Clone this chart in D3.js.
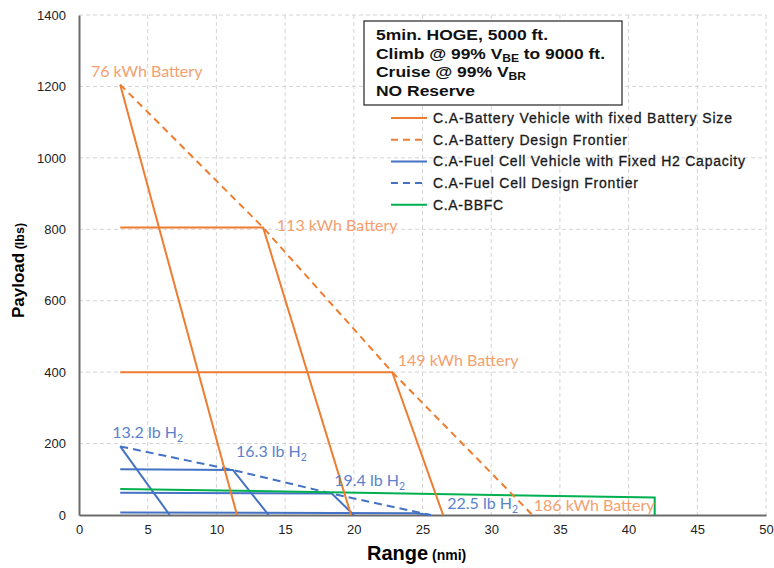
<!DOCTYPE html>
<html>
<head>
<meta charset="utf-8">
<script src="https://cdn.jsdelivr.net/npm/d3@7"></script>
<style>
  body { margin: 0; background: #fff; }
  text { font-family: "Liberation Sans", Arial, sans-serif; }
  .lbl { font-family: Lato, "Open Sans", sans-serif; font-size: 16px; }
</style>
</head>
<body>
<svg id="chart" width="774" height="568"></svg>
<script>
// battery vehicles, fixed battery size  [range nmi, payload lbs]
const bat76  = [[3, 1205], [11.5, 0]];
const bat113 = [[3, 805], [13.4, 805], [19.8, 0]];
const bat149 = [[3, 400], [22.8, 400], [26.5, 0]];
const batFrontier = [[3, 1205], [13.4, 805], [22.8, 400], [33, 0]];

// fuel cell vehicles, fixed H2 capacity
const fc132 = [[3, 192], [6.6, 0]];
const fc163 = [[3, 128], [11.2, 126], [13.8, 0]];
const fc194 = [[3, 62], [18.4, 60], [20, 0]];
const fc225 = [[3, 7], [24.5, 5], [25.6, 0]];
const fcFrontier = [[3, 192], [11.2, 126], [18.4, 60], [25.6, 0]];

const bbfc = [[3, 73], [41.9, 49], [41.9, 0]];

const xTicks = [0, 5, 10, 15, 20, 25, 30, 35, 40, 45, 50];
const yTicks = [0, 200, 400, 600, 800, 1000, 1200, 1400];

const batLabels = ["76 kWh Battery", "113 kWh Battery", "149 kWh Battery", "186 kWh Battery"];
const fcLabels = ["13.2 lb H", "16.3 lb H", "19.4 lb H", "22.5 lb H"];

const legendNames = [
  "C.A-Battery Vehicle with fixed Battery Size",
  "C.A-Battery Design Frontier",
  "C.A-Fuel Cell Vehicle with Fixed H2 Capacity",
  "C.A-Fuel Cell Design Frontier",
  "C.A-BBFC"
];

const orange = "#ED7D31", blue = "#4472C4", green = "#00B050";
const orangeTxt = "#F4A06E", blueTxt = "#5A82CC";

const svg = d3.select("#chart");
const margin = {top: 15, left: 79, right: 8, bottom: 53};
const W = 774 - margin.left - margin.right, H = 568 - margin.top - margin.bottom;

const x = d3.scaleLinear().domain([0, 50]).range([0, W]);
const y = d3.scaleLinear().domain([0, 1400]).range([H, 0]);

const g = svg.append("g").attr("transform", "translate(" + margin.left + "," + margin.top + ")");

// grid
g.selectAll(".vgrid").data(xTicks.slice(1)).enter().append("line")
  .attr("x1", d => x(d)).attr("x2", d => x(d)).attr("y1", 0).attr("y2", H)
  .attr("stroke", "#d4d4d4").attr("stroke-dasharray", "4,3");
g.selectAll(".hgrid").data(yTicks.slice(1)).enter().append("line")
  .attr("x1", 0).attr("x2", W).attr("y1", d => y(d)).attr("y2", d => y(d))
  .attr("stroke", "#d4d4d4").attr("stroke-dasharray", "4,3");

// axes
const xAxis = g.append("g").attr("transform", "translate(0," + H + ")")
  .call(d3.axisBottom(x).tickValues(xTicks).tickSize(0).tickPadding(10));
const yAxis = g.append("g")
  .call(d3.axisLeft(y).tickValues(yTicks).tickFormat(d3.format("d")).tickSize(0).tickPadding(13));
[xAxis, yAxis].forEach(a => {
  a.select(".domain").attr("stroke", "#6b6b6b").attr("stroke-width", 2);
  a.selectAll("text").attr("font-size", 13).attr("fill", "#222")
    .attr("font-family", "'Liberation Sans', Arial, sans-serif");
});

const line = d3.line().x(d => x(d[0])).y(d => y(d[1]));
function draw(pts, color, dash) {
  g.append("path").datum(pts).attr("d", line)
    .attr("fill", "none").attr("stroke", color).attr("stroke-width", 2)
    .attr("stroke-dasharray", dash || null);
}

draw(fc225, blue); draw(fc194, blue); draw(fc163, blue); draw(fc132, blue);
draw(fcFrontier, blue, "8,5");
draw(bbfc, green);
draw(bat76, orange); draw(bat113, orange); draw(bat149, orange);
draw(batFrontier, orange, "7,5");

// series labels
const batPos = [[0.87, 1226], [14.4, 795], [23.2, 417], [33.1, 11]];
batLabels.forEach((t, i) => {
  g.append("text").attr("class", "lbl").attr("fill", orangeTxt)
    .attr("x", x(batPos[i][0])).attr("y", y(batPos[i][1])).text(t);
});
const fcPos = [[2.42, 215], [11.43, 162], [18.58, 81], [26.8, 17]];
fcLabels.forEach((t, i) => {
  const tx = g.append("text").attr("class", "lbl").attr("fill", blueTxt)
    .attr("x", x(fcPos[i][0])).attr("y", y(fcPos[i][1])).text(t);
  tx.append("tspan").attr("font-size", 10.5).attr("dy", 4).text("2");
});

// condition box
const box = svg.append("g").attr("transform", "translate(364,21)");
box.append("rect").attr("width", 258).attr("height", 84)
  .attr("fill", "#fff").attr("stroke", "#222").attr("stroke-width", 1.2);
const bt = box.append("g").attr("font-weight", "bold").attr("font-size", 14.5).attr("fill", "#111");
bt.append("text").attr("x", 12).attr("y", 19).attr("textLength", 172)
  .attr("lengthAdjust", "spacingAndGlyphs").text("5min. HOGE, 5000 ft.");
const l2 = bt.append("text").attr("x", 12).attr("y", 37.5).attr("textLength", 229)
  .attr("lengthAdjust", "spacingAndGlyphs").text("Climb @ 99% V");
l2.append("tspan").attr("font-size", 10).attr("dy", 3).text("BE");
l2.append("tspan").attr("dy", -3).text(" to 9000 ft.");
const l3 = bt.append("text").attr("x", 12).attr("y", 56).attr("textLength", 150)
  .attr("lengthAdjust", "spacingAndGlyphs").text("Cruise @ 99% V");
l3.append("tspan").attr("font-size", 10).attr("dy", 3).text("BR");
bt.append("text").attr("x", 12).attr("y", 74.5).attr("textLength", 99)
  .attr("lengthAdjust", "spacingAndGlyphs").text("NO Reserve");

// legend
const legColors = [orange, orange, blue, blue, green];
const legDash = [null, "7,5", null, "7,5", null];
const legLen = [299, 194, 312, 205, 70];
const leg = svg.append("g").attr("transform", "translate(391,118)");
legendNames.forEach((n, i) => {
  const row = leg.append("g").attr("transform", "translate(0," + (i * 21.7) + ")");
  row.append("line").attr("x1", 0).attr("x2", 36).attr("y1", 0).attr("y2", 0)
    .attr("stroke", legColors[i]).attr("stroke-width", 2).attr("stroke-dasharray", legDash[i]);
  row.append("text").attr("x", 42).attr("y", 5).attr("font-size", 14)
    .attr("textLength", legLen[i]).attr("lengthAdjust", "spacing")
    .attr("fill", "#1a1a1a").attr("stroke", "#1a1a1a").attr("stroke-width", 0.3).text(n);
});

// axis titles
const xt = svg.append("text").attr("x", 367).attr("y", 560)
  .attr("font-weight", "bold").attr("font-size", 20).attr("fill", "#000").text("Range");
xt.append("tspan").attr("font-size", 14).text(" (nmi)");
const yt = svg.append("text").attr("transform", "translate(24,318) rotate(-90)")
  .attr("font-weight", "bold").attr("font-size", 17).attr("fill", "#000").text("Payload");
yt.append("tspan").attr("font-size", 12.5).text(" (lbs)");
</script>
</body>
</html>
